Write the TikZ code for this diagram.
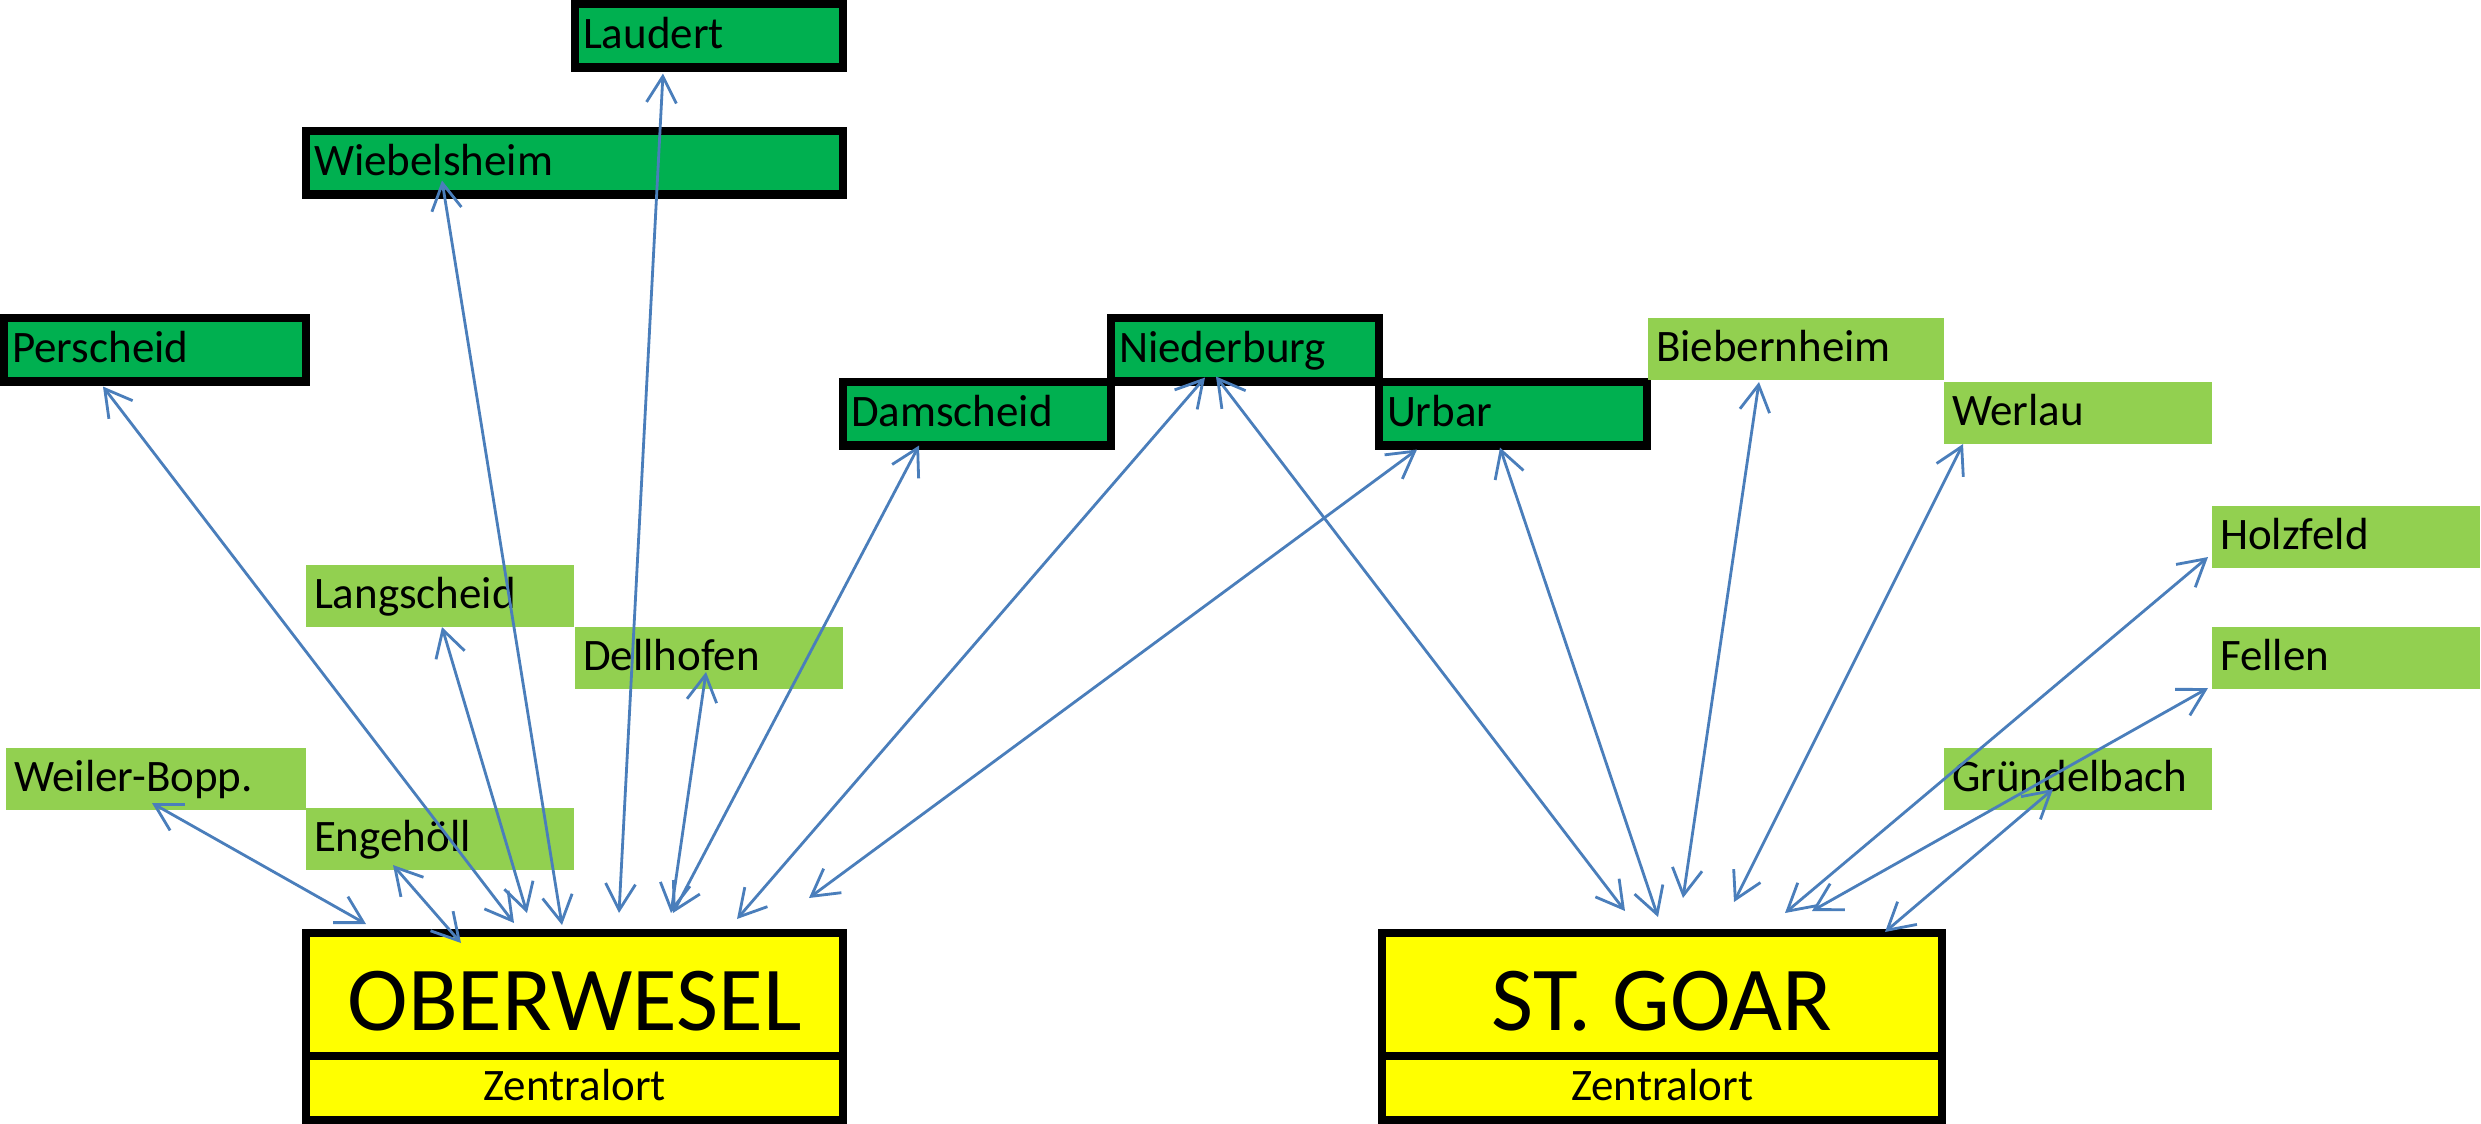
\documentclass[tikz,border=0pt]{standalone}
\usepackage{fontspec}
\setmainfont{Carlito}
\usepackage{tikz}
\usetikzlibrary{positioning, arrows.meta}

\definecolor{ortgreen}{HTML}{00B050}
\definecolor{dorfgreen}{HTML}{92D050}
\definecolor{zentrgelb}{HTML}{FFFF00}
\definecolor{pfeilblau}{HTML}{4A7EBB}

\tikzset{
  ort/.style={draw=black, line width=2.3pt, fill=ortgreen, anchor=north west,
    inner sep=0pt, inner xsep=0.08cm, outer sep=0pt, minimum height=0.635cm,
    text width=2.52cm, align=left, text height=0.33cm, text depth=0.08cm,
    font=\fontsize{12.8}{15}\selectfont},
  dorf/.style={ort, draw=none, fill=dorfgreen, minimum height=0.62cm},
  zentrum/.style={draw=black, line width=2.3pt, fill=zentrgelb, anchor=north west,
    inner sep=0pt, outer sep=0pt, minimum height=1.23cm,
    text height=0.8cm, text depth=0.09cm, font=\fontsize{26}{30}\selectfont},
  zlabel/.style={zentrum, minimum height=0.64cm, text height=0.32cm,
    text depth=0.08cm, font=\fontsize{12.8}{15}\selectfont},
  arr/.style={draw=pfeilblau, line width=0.8pt, <->},
  >={Straight Barb[length=7.5pt,width=8.5pt]}
}

\begin{document}
\begin{tikzpicture}[x=0.01cm, y=-0.01cm]
    \useasboundingbox (0,0) rectangle (2481,1124);

    % Zentralorte
    \node[zentrum, minimum width=5.37cm] (ow) at (306,933) {OBERWESEL};
    \node[zlabel, minimum width=5.37cm] (owz) at (306,1056) {Zentralort};
    \node[zentrum, minimum width=5.60cm] (sg) at (1382,933) {ST. GOAR};
    \node[zlabel, minimum width=5.60cm] (sgz) at (1382,1056) {Zentralort};

    % Orte mit Rahmen
    \node[ort] (laud) at (575,4) {Laudert};
    \node[ort, text width=5.21cm] (wieb) at (306,131) {Wiebelsheim};
    \node[ort, text width=2.86cm] (pers) at (4,318) {Perscheid};
    \node[ort] (dams) at (843,382) {Damscheid};
    \node[ort] (nied) at (1111,318) {Niederburg};
    \node[ort] (urb) at (1379,382) {Urbar};

    % Orte ohne Rahmen
    \node[dorf, text width=2.80cm] (bieb) at (1648,318) {Biebernheim};
    \node[dorf] (werl) at (1944,382) {Werlau};
    \node[dorf] (holz) at (2212,506) {Holzfeld};
    \node[dorf] (fell) at (2212,627) {Fellen};
    \node[dorf] (grue) at (1944,748) {Gründelbach};
    \node[dorf] (lang) at (306,565) {Langscheid};
    \node[dorf] (dell) at (575,627) {Dellhofen};
    \node[dorf, text width=2.84cm] (weil) at (6,748) {Weiler-Bopp.};
    \node[dorf] (enge) at (306,808) {Engehöll};

    % Pfeile nach Oberwesel
    \draw[arr] ([shift={(99,5)}]pers.south west) -- ([shift={(208,-10)}]ow.north west);
    \draw[arr] ([shift={(136,-14)}]wieb.south west) -- ([shift={(256,-8)}]ow.north west);
    \draw[arr] ([shift={(88,6)}]laud.south west) -- ([shift={(313,-20)}]ow.north west);
    \draw[arr] ([shift={(136,0)}]lang.south west) -- ([shift={(221,-20)}]ow.north west);
    \draw[arr] ([shift={(131,-17)}]dell.south west) -- ([shift={(365,-20)}]ow.north west);
    \draw[arr] ([shift={(76,0)}]dams.south west) -- ([shift={(367,-20)}]ow.north west);
    \draw[arr] ([shift={(94,-4)}]nied.south west) -- ([shift={(431,-14)}]ow.north west);
    \draw[arr] ([shift={(38,4)}]urb.south west) -- ([shift={(503,-35)}]ow.north west);
    \draw[arr] ([shift={(146,-7)}]weil.south west) -- ([shift={(60,-9)}]ow.north west);
    \draw[arr] ([shift={(87,-5)}]enge.south west) -- ([shift={(155,10)}]ow.north west);

    % Pfeile nach St. Goar
    \draw[arr] ([shift={(105,-5)}]nied.south west) -- ([shift={(243,-22)}]sg.north west);
    \draw[arr] ([shift={(121,2)}]urb.south west) -- ([shift={(276,-16)}]sg.north west);
    \draw[arr] ([shift={(111,2)}]bieb.south west) -- ([shift={(301,-35)}]sg.north west);
    \draw[arr] ([shift={(19,0)}]werl.south west) -- ([shift={(352,-31)}]sg.north west);
    \draw[arr] ([shift={(-4,-11)}]holz.south west) -- ([shift={(403,-20)}]sg.north west);
    \draw[arr] ([shift={(-4,-1)}]fell.south west) -- ([shift={(430,-22)}]sg.north west);
    \draw[arr] ([shift={(109,-21)}]grue.south west) -- ([shift={(503,-1)}]sg.north west);
\end{tikzpicture}
\end{document}
